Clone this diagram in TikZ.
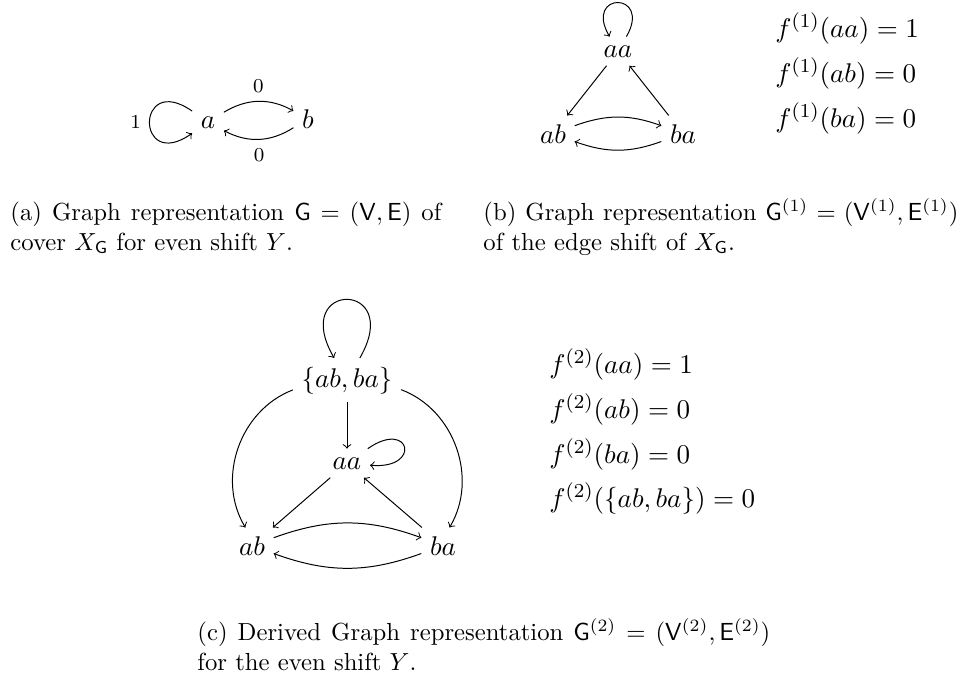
\documentclass[tikz,border=0pt]{standalone}
\usetikzlibrary{arrows}
\begin{document}
\begin{tikzpicture}[x=0.405pt,y=0.405pt,
  gnode/.style={anchor=base,font=\fontsize{10.95}{13.6}\selectfont},
  ftext/.style={anchor=base west,inner sep=0pt,font=\fontsize{10.95}{13.6}\selectfont},
  captext/.style={anchor=base west,inner sep=0pt,font=\fontsize{10}{12}\selectfont},
  elabel/.style={font=\fontsize{8}{9.6}\selectfont},
  arr/.style={->},
]
\useasboundingbox (0,0) rectangle (966,-679);

% ---------- (a) ----------
\node[gnode] (a) at (208,-128) {$a$};
\node[gnode] (b) at (308,-128) {$b$};
\draw[arr] (a) to[bend left=30] node[elabel,above] (l1) {0} (b);
\draw[arr] (b) to[bend left=30] node[elabel,below] (l2) {0} (a);
\draw[arr] (a) to[out=145,in=215,looseness=8] node[elabel,left] (l3) {1} (a);

\node[captext] (capa1) at (10,-220) {\hbox to 174.5pt{(a) Graph representation $\mathsf{G}=(\mathsf{V},\mathsf{E})$ of}};
\node[captext] (capa2) at (10,-250) {cover $X_{\mathsf{G}}$ for even shift $Y$.};

% ---------- (b) ----------
\node[gnode] (aa1) at (618,-57) {$aa$};
\node[gnode] (ab1) at (553,-143) {$ab$};
\node[gnode] (ba1) at (683,-143) {$ba$};
\draw[arr] (aa1) to[out=60,in=120,looseness=8] (aa1);
\draw[arr] (aa1) -- (ab1);
\draw[arr] (ba1) -- (aa1);
\draw[arr] (ab1) to[bend left=20] (ba1);
\draw[arr] (ba1) to[bend left=20] (ab1);

\node[ftext] (f1a) at (775,-37) {$f^{(1)}(aa)=1$};
\node[ftext] (f1b) at (775,-82) {$f^{(1)}(ab)=0$};
\node[ftext] (f1c) at (775,-127) {$f^{(1)}(ba)=0$};

\node[captext] (capb1) at (483,-220) {\hbox to 192.4pt{(b) Graph representation $\mathsf{G}^{(1)}=(\mathsf{V}^{(1)},\mathsf{E}^{(1)})$}};
\node[captext] (capb2) at (483,-250) {of the edge shift of $X_{\mathsf{G}}$.};

% ---------- (c) ----------
\node[gnode] (s) at (347,-387) {$\{ab,ba\}$};
\node[gnode] (aa2) at (347,-469) {$aa$};
\node[gnode] (ab2) at (252,-555) {$ab$};
\node[gnode] (ba2) at (443,-555) {$ba$};
\draw[arr] (s) to[out=60,in=120,looseness=9] (s);
\draw[arr] (s) -- (aa2);
\draw[arr] (aa2) to[out=35,in=-5,looseness=8] (aa2);
\draw[arr] (aa2) -- (ab2);
\draw[arr] (ba2) -- (aa2);
\draw[arr] (ab2) to[bend left=20] (ba2);
\draw[arr] (ba2) to[bend left=20] (ab2);
\draw[arr] (s) to[bend right=50] (ab2);
\draw[arr] (s) to[bend left=50] (ba2);

\node[ftext] (f2a) at (549,-373) {$f^{(2)}(aa)=1$};
\node[ftext] (f2b) at (549,-418) {$f^{(2)}(ab)=0$};
\node[ftext] (f2c) at (549,-463) {$f^{(2)}(ba)=0$};
\node[ftext] (f2d) at (549,-507) {$f^{(2)}(\{ab,ba\})=0$};

\node[captext] (capc1) at (197,-640) {\hbox to 232pt{(c) Derived Graph representation $\mathsf{G}^{(2)}=(\mathsf{V}^{(2)},\mathsf{E}^{(2)})$}};
\node[captext] (capc2) at (197,-670) {for the even shift $Y$.};
\end{tikzpicture}
\end{document}
